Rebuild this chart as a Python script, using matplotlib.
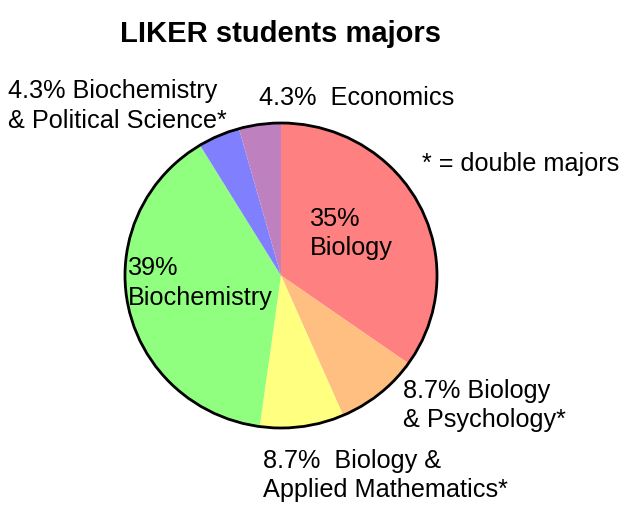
import matplotlib
matplotlib.use("Agg")
import matplotlib.pyplot as plt
from matplotlib.patches import Circle

plt.rcParams['font.family'] = ['Liberation Sans', 'DejaVu Sans']

# Data
majors = ["Biology", "Biology & Psychology*", "Biology & Applied Mathematics*",
          "Biochemistry", "Biochemistry & Political Science*", "Economics"]
students = [8, 2, 2, 9, 1, 1]
colors = ["#FF8080", "#FFBF80", "#FFFF80", "#90FF80", "#8080FF", "#BF80BF"]
labels = [
    ["35%", "Biology"],
    ["8.7% Biology", "& Psychology*"],
    ["8.7%  Biology &", "Applied Mathematics*"],
    ["39%", "Biochemistry"],
    ["4.3% Biochemistry", "& Political Science*"],
    ["4.3%  Economics"],
]
title = "LIKER students majors"
note = "* = double majors"

W, H = 632, 519
fig = plt.figure(figsize=(W / 100, H / 100), dpi=100)
fig.patch.set_facecolor("white")

# pie axes positioned in pixel box
px_l, px_r, px_t, px_b = 125, 437, 123, 428
ax = fig.add_axes([px_l / W, 1 - px_b / H, (px_r - px_l) / W, (px_b - px_t) / H])
wedges, _ = ax.pie(students, colors=colors, startangle=90, counterclock=False,
                   wedgeprops=dict(linewidth=0, edgecolor="none"))
ax.set_aspect("auto")
ax.set_xlim(-1, 1)
ax.set_ylim(-1, 1)
ax.add_patch(Circle((0, 0), 1, fill=False, edgecolor="black", linewidth=2.0, clip_on=False))
ax.axis("off")

# text positions in pixel coordinates (left x, baseline y of first line)
label_pos = [(310, 226), (403, 398), (263, 468), (128, 275), (8, 98), (259, 105)]
line_gap = 29.5
fs = 18.2
for lab, (x, y) in zip(labels, label_pos):
    for i, line in enumerate(lab):
        fig.text(x / W, 1 - (y + i * line_gap) / H, line, fontsize=fs,
                 ha="left", va="baseline", color="black")

fig.text(280 / W, 1 - 42 / H, title, fontsize=21, fontweight="bold",
         ha="center", va="baseline", color="black")
fig.text(422 / W, 1 - 171 / H, note, fontsize=fs, ha="left", va="baseline",
         color="black")

fig.savefig("out.png", dpi=100, facecolor="white")
